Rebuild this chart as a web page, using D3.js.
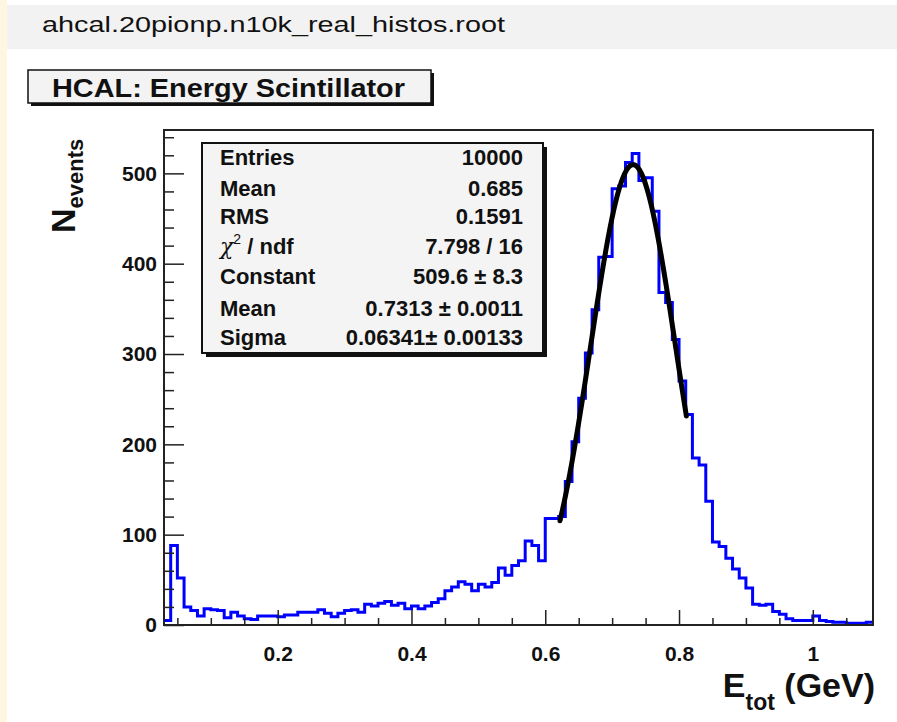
<!DOCTYPE html>
<html><head><meta charset="utf-8">
<script src="https://cdn.jsdelivr.net/npm/d3@7"></script>
<style>
body{margin:0;background:#fef7df;}
svg{display:block;}
text{font-family:"Liberation Sans",Arial,Helvetica,sans-serif;}
</style>
</head><body>
<svg id="c" width="897" height="722"></svg>
<script>
// ---------------- data ----------------
const fileName = "ahcal.20pionp.n10k_real_histos.root";
const histTitle = "HCAL: Energy Scintillator";
const histRange = [0.03, 1.09];          // histogram x range (bin width 0.01)
const counts = [
  5, 88, 52, 20, 16, 10, 18, 17, 16, 8,          // 0.03 - 0.12
  14, 10, 7, 6, 10, 10, 10, 9, 11, 11,           // 0.13 - 0.22
  14, 14, 14, 17, 13, 9, 13, 16, 17, 14,         // 0.23 - 0.32
  23, 21, 24, 26, 22, 24, 18, 21, 18, 21,        // 0.33 - 0.42
  25, 29, 38, 42, 48, 45, 38, 45, 42, 47,        // 0.43 - 0.52
  63, 55, 66, 71, 93, 88, 71, 118, 118, 120,     // 0.53 - 0.62
  159, 203, 251, 301, 349, 407, 408, 483, 486, 512, // 0.63 - 0.72
  522, 492, 495, 458, 368, 357, 316, 270, 233, 185, // 0.73 - 0.82
  177, 137, 92, 87, 74, 62, 52, 41, 23, 22,      // 0.83 - 0.92
  23, 15, 12, 7, 5, 5, 5, 10, 5, 4,              // 0.93 - 1.02
  3, 3, 2, 2, 2, 3                               // 1.03 - 1.08
];
const yMax = 548;
const xMajorTicks = [0.2, 0.4, 0.6, 0.8, 1.0];
const xTickLabels = ["0.2", "0.4", "0.6", "0.8", "1"];
const xMinorTicks = [0.05,0.1,0.15,0.25,0.3,0.35,0.45,0.5,0.55,0.65,0.7,0.75,0.85,0.9,0.95,1.05];
const yMajorTicks = [0, 100, 200, 300, 400, 500];
const yMinorTicks = [20,40,60,80,120,140,160,180,220,240,260,280,320,340,360,380,420,440,460,480,520,540];
const statLabels = ["Entries", "Mean", "RMS", "chi2", "Constant", "Mean", "Sigma"];
const statValues = ["10000", "0.685", "0.1591", "7.798 / 16", "509.6 \u00b1 8.3", "0.7313 \u00b1 0.0011", "0.06341\u00b1 0.00133"];
const fitConstant = 509.6, fitMean = 0.7313, fitSigma = 0.06341;
const fitRange = [0.622, 0.811];

// ---------------- layout ----------------
const svg = d3.select("#c");
const F = {left:164, right:873, top:130, bottom:625};

svg.append("rect").attr("x",7).attr("y",0).attr("width",890).attr("height",722).attr("fill","#ffffff");
svg.append("rect").attr("x",7).attr("y",5).attr("width",890).attr("height",44).attr("fill","#f2f2f2");
svg.append("text").attr("x",42).attr("y",32).attr("font-size",22)
  .attr("textLength",463).attr("lengthAdjust","spacingAndGlyphs").attr("fill","#111").text(fileName);

// title box
svg.append("rect").attr("x",31).attr("y",73).attr("width",403).attr("height",33).attr("fill","#111");
svg.append("rect").attr("x",28).attr("y",70).attr("width",403).attr("height",33)
  .attr("fill","#f3f3f3").attr("stroke","#111").attr("stroke-width",1.5);
svg.append("text").attr("x",52).attr("y",97).attr("font-size",26).attr("font-weight","bold")
  .attr("textLength",353).attr("lengthAdjust","spacingAndGlyphs").attr("fill","#111").text(histTitle);

// scales
const x = d3.scaleLinear().domain(histRange).range([F.left, F.right]);
const y = d3.scaleLinear().domain([0, yMax]).range([F.bottom, F.top]);

svg.append("clipPath").attr("id","fr").append("rect")
  .attr("x",F.left).attr("y",F.top).attr("width",F.right-F.left).attr("height",F.bottom-F.top);

// histogram
const nb = counts.length;
const bw = (histRange[1]-histRange[0]) / nb;
const pts = counts.map((c,i)=>[histRange[0]+i*bw, c]);
pts.push([histRange[1], counts[nb-1]]);
const stepLine = d3.line().x(d=>x(d[0])).y(d=>y(d[1])).curve(d3.curveStepAfter);
svg.append("path").attr("d", stepLine(pts)).attr("fill","none")
  .attr("stroke","#0000ff").attr("stroke-width",3).attr("clip-path","url(#fr)");

// fit curve (Gaussian from the fitted parameters)
const fx = d3.range(fitRange[0], fitRange[1]+1e-9, (fitRange[1]-fitRange[0])/200);
const gauss = v => fitConstant*Math.exp(-0.5*Math.pow((v-fitMean)/fitSigma,2));
svg.append("path").attr("d", d3.line().x(d=>x(d)).y(d=>y(gauss(d)))(fx))
  .attr("fill","none").attr("stroke","#000").attr("stroke-width",5).attr("stroke-linecap","round");

// frame
svg.append("rect").attr("x",F.left).attr("y",F.top).attr("width",F.right-F.left).attr("height",F.bottom-F.top)
  .attr("fill","none").attr("stroke","#222").attr("stroke-width",2);

// axes
const xAxis = d3.axisBottom(x).tickValues(xMajorTicks).tickSize(-15).tickPadding(21)
  .tickFormat((d,i)=>xTickLabels[i]);
svg.append("g").attr("transform",`translate(0,${F.bottom})`).call(xAxis);
const xMinor = d3.axisBottom(x).tickValues(xMinorTicks).tickSize(-7).tickFormat("");
svg.append("g").attr("transform",`translate(0,${F.bottom})`).call(xMinor);

const yAxis = d3.axisLeft(y).tickValues(yMajorTicks).tickSize(-20).tickPadding(7);
svg.append("g").attr("transform",`translate(${F.left},0)`).call(yAxis);
const yMinor = d3.axisLeft(y).tickValues(yMinorTicks).tickSize(-10).tickFormat("");
svg.append("g").attr("transform",`translate(${F.left},0)`).call(yMinor);

svg.selectAll(".domain").remove();
svg.selectAll(".tick line").attr("stroke","#222").attr("stroke-width",1.5);
svg.selectAll(".tick text").attr("font-size",21).attr("font-weight","bold")
  .attr("font-family","Liberation Sans, Arial, sans-serif").attr("fill","#111");

// axis titles
const xt = svg.append("text").attr("x",875).attr("y",697).attr("text-anchor","end")
  .attr("font-weight","bold").attr("fill","#111");
xt.append("tspan").attr("font-size",34).text("E");
xt.append("tspan").attr("font-size",23).attr("dy",13).text("tot");
xt.append("tspan").attr("font-size",34).attr("dy",-13).text(" (GeV)");

const yt = svg.append("text").attr("transform","translate(75,233) rotate(-90)")
  .attr("font-weight","bold").attr("fill","#111");
yt.append("tspan").attr("font-size",34).text("N");
yt.append("tspan").attr("font-size",22).attr("dy",8).text("events");

// stats box
const S = {x:202, y:143, w:341, h:210};
svg.append("rect").attr("x",S.x+4).attr("y",S.y+4).attr("width",S.w).attr("height",S.h).attr("fill","#111");
svg.append("rect").attr("x",S.x).attr("y",S.y).attr("width",S.w).attr("height",S.h)
  .attr("fill","#f4f4f4").attr("stroke","#111").attr("stroke-width",2);
const rowY = [165, 196, 224, 254, 284, 316, 345];
statLabels.forEach((lab,i)=>{
  const t = svg.append("text").attr("x",220).attr("y",rowY[i]).attr("font-size",22)
    .attr("font-weight","bold").attr("fill","#111");
  if (lab === "chi2") {
    t.append("tspan").attr("font-family","DejaVu Serif, serif").attr("font-style","italic")
      .attr("font-weight","normal").text("\u03c7");
    t.append("tspan").attr("font-size",14).attr("font-weight","normal").attr("dy",-10).text("2");
    t.append("tspan").attr("dy",10).text(" / ndf");
  } else t.text(lab);
  svg.append("text").attr("x",523).attr("y",rowY[i]).attr("font-size",22)
    .attr("font-weight","bold").attr("text-anchor","end").attr("fill","#111").text(statValues[i]);
});
</script>
</body></html>
